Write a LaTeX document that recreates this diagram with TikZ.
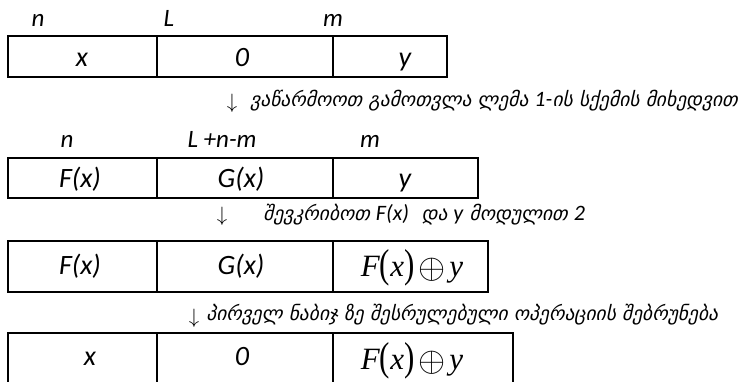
\documentclass[tikz,border=0pt]{standalone}
\usepackage{fontspec}
\usepackage{amsmath}
\newfontfamily\calib{Carlito}
\newfontfamily\tms{Liberation Serif}
\newfontfamily\geo[FakeSlant=0.22]{DejaVu Sans}
\usetikzlibrary{positioning}
\tikzset{
  box/.style={line width=2.2pt, line join=miter},
  lbl/.style={inner sep=0pt, anchor=base, font=\calib\itshape\fontsize{25}{30}\selectfont},
  cell/.style={inner sep=0pt, anchor=base, font=\calib\itshape\fontsize{28}{32}\selectfont},
  xor/.style={inner sep=0pt, anchor=base, font=\tms\fontsize{31}{36}\selectfont},
  down/.style={inner sep=0pt, anchor=base, font=\fontsize{22}{26}\selectfont},
  note/.style={inner sep=0pt, anchor=base west, font=\geo\fontsize{19.5}{22}\selectfont}
}
\newcommand{\lt}[1]{{\calib\itshape\fontsize{22}{24}\selectfont #1}}
\newcommand{\fxy}{\textit{F}\raisebox{-1pt}{\scalebox{1}[1.3]{(}}\textit{x}%
  \raisebox{-1pt}{\scalebox{1}[1.3]{)}}\kern4pt\raisebox{-2pt}{\scalebox{1.4}{$\oplus$}}\kern4pt\textit{y}}

\begin{document}
\begin{tikzpicture}[x=1pt,y=-1pt]
\useasboundingbox (0,0) rectangle (749,382);

% Row 1: x | 0 | y
\draw[box] (8,36) rectangle (447,77);
\draw[box] (157,36) -- (157,77);
\draw[box] (333,36) -- (333,77);
\node[lbl] (n1) at (38,27) {n};
\node[lbl] (l1) at (169,27) {L};
\node[lbl] (m1) at (333,27) {m};
\node[cell] (x1) at (82,67) {x};
\node[cell] (z1) at (242,67) {0};
\node[cell] (y1) at (405,67) {y};

\node[down] (a1) at (232,109) {$\downarrow$};
\node[note] (t1) at (250,107)
  {ვაწარმოოთ გამოთვლა ლემა \lt{1-}ის სქემის მიხედვით};

% Row 2: F(x) | G(x) | y
\draw[box] (8,158) rectangle (478,198);
\draw[box] (157,158) -- (157,198);
\draw[box] (333,158) -- (333,198);
\node[lbl] (n2) at (67,148) {n};
\node[lbl] (l2) at (222,148) {L +n-m};
\node[lbl] (m2) at (370,148) {m};
\node[cell] (f2) at (80,188) {F(x)};
\node[cell] (g2) at (241,188) {G(x)};
\node[cell] (y2) at (405,188) {y};

\node[down] (a2) at (222,221) {$\downarrow$};
\node[note] (t2) at (263,220)
  {შევკრიბოთ \lt{F(x)}\ \ და \lt{y} მოდულით \lt{2}};

% Row 3: F(x) | G(x) | F(x) xor y
\draw[box] (8,241) rectangle (488,292);
\draw[box] (157,241) -- (157,292);
\draw[box] (333,241) -- (333,292);
\node[cell] (f3) at (80,274) {F(x)};
\node[cell] (g3) at (241,274) {G(x)};
\node[xor] (s3) at (412,276) {\fxy};

\node[down] (a3) at (194,323) {$\downarrow$};
\node[note] (t3) at (206,320)
  {პირველ ნაბიჯ ზე შესრულებული ოპერაციის შებრუნება};

% Row 4: x | 0 | F(x) xor y (cut off at the bottom)
\draw[box] (8,392) -- (8,333) -- (513,333) -- (513,392);
\draw[box] (157,333) -- (157,392);
\draw[box] (333,333) -- (333,392);
\node[cell] (x4) at (90,365) {x};
\node[cell] (z4) at (242,365) {0};
\node[xor] (s4) at (412,369) {\fxy};
\end{tikzpicture}
\end{document}
